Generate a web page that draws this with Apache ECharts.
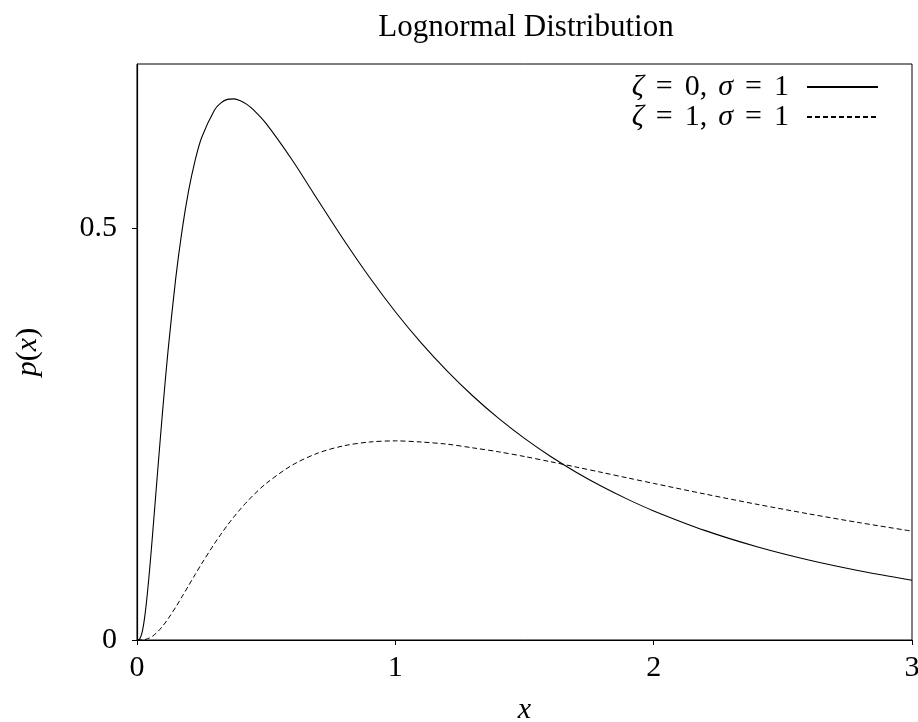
<!DOCTYPE html>
<html>
<head>
<meta charset="utf-8">
<script src="https://cdn.jsdelivr.net/npm/echarts@6/dist/echarts.min.js"></script>
<style>html,body{margin:0;padding:0;background:#fff}#chart{width:918px;height:722px}</style>
</head>
<body>
<div id="chart"></div>
<script>
// x positions where the curves were read
var xValues = [0, 0.01, 0.02, 0.03, 0.04, 0.05, 0.06, 0.08, 0.1, 0.12, 0.15, 0.175, 0.2, 0.225, 0.25, 0.3, 0.325, 0.35, 0.375, 0.4, 0.425, 0.45, 0.5, 0.6, 0.7, 0.8, 0.9, 1.0, 1.1, 1.2, 1.3, 1.4, 1.5, 1.6, 1.7, 1.8, 1.9, 2.0, 2.2, 2.4, 2.6, 2.8, 3.0];
// zeta = 0, sigma = 1
var pZeta0 = [0, 0.001, 0.0095, 0.0284, 0.0562, 0.0898, 0.1271, 0.2054, 0.2815, 0.3511, 0.4398, 0.4991, 0.5463, 0.5829, 0.6104, 0.6442, 0.6527, 0.6570, 0.6576, 0.6554, 0.6509, 0.6445, 0.6275, 0.5836, 0.5348, 0.4864, 0.4408, 0.3989, 0.3610, 0.3270, 0.2965, 0.2693, 0.2450, 0.2233, 0.2039, 0.1865, 0.1709, 0.1569, 0.1329, 0.1133, 0.0972, 0.0839, 0.0727];
// zeta = 1, sigma = 1
var pZeta1 = [0, 0, 0.0001, 0.0005, 0.0014, 0.0027, 0.0046, 0.0100, 0.0171, 0.0256, 0.0400, 0.0530, 0.0663, 0.0795, 0.0926, 0.1172, 0.1286, 0.1395, 0.1496, 0.1590, 0.1678, 0.1759, 0.1903, 0.2124, 0.2271, 0.2360, 0.2406, 0.2420, 0.2406, 0.2380, 0.2335, 0.2287, 0.2230, 0.2167, 0.2102, 0.2036, 0.1969, 0.1903, 0.1773, 0.1649, 0.1533, 0.1424, 0.1323];
var xTicks = [0, 1, 2, 3];
var yTicks = [0, 0.5];
var titleText = 'Lognormal Distribution';
var seriesNames = ['zeta0', 'zeta1'];
var legendLabels = {zeta0: '{i|ζ}{e|=}0,{c|}{i|σ}{e|=}1', zeta1: '{i|ζ}{e|=}1,{c|}{i|σ}{e|=}1'};

function pairs(xs, ys) { return xs.map(function (x, i) { return [x, ys[i]]; }); }

var FONT = 'Liberation Serif';
var FS = 30;
var chart = echarts.init(document.getElementById('chart'), null, {renderer: 'canvas'});
chart.setOption({
  backgroundColor: '#fff',
  animation: false,
  title: {
    text: titleText, left: 521, top: 7, textAlign: 'center',
    textStyle: {fontFamily: FONT, fontSize: 31, fontWeight: 'normal', color: '#000'}
  },
  grid: {left: 137, right: 6, top: 64, bottom: 82, show: true, borderColor: '#000', borderWidth: 1,
         containLabel: false, outerBoundsMode: 'none'},
  legend: {
    orient: 'vertical', right: 34, top: 67, align: 'right', itemGap: 0,
    itemWidth: 71, itemHeight: 14,
    data: seriesNames,
    itemStyle: {opacity: 0, borderWidth: 0},
    formatter: function (n) { return legendLabels[n]; },
    textStyle: {
      fontFamily: FONT, fontSize: FS, color: '#000', lineHeight: 28, padding: [0, 13, 0, 0],
      rich: {
        i: {fontFamily: FONT, fontSize: FS, fontStyle: 'italic', color: '#000'},
        e: {fontFamily: FONT, fontSize: FS, color: '#000', padding: [0, 12, 0, 12]},
        c: {width: 11}
      }
    }
  },
  xAxis: {
    type: 'value', min: 0, max: 3, interval: 1,
    name: '{i|x}', nameLocation: 'middle', nameGap: 55,
    nameTextStyle: {rich: {i: {fontFamily: FONT, fontSize: FS, fontStyle: 'italic', color: '#000'}}},
    axisLine: {show: true, onZero: false, lineStyle: {color: '#000', width: 1.2}},
    axisTick: {show: true, inside: false, length: 5, lineStyle: {color: '#000'}, customValues: xTicks},
    axisLabel: {fontFamily: FONT, fontSize: FS, color: '#000', margin: 13, customValues: xTicks},
    splitLine: {show: false}
  },
  yAxis: {
    type: 'value', min: 0, max: 0.7,
    name: '{i|p}({i|x})', nameLocation: 'middle', nameGap: 94, nameRotate: 90,
    nameTextStyle: {fontFamily: FONT, fontSize: FS, color: '#000',
      rich: {i: {fontFamily: FONT, fontSize: FS, fontStyle: 'italic', color: '#000'}}},
    axisLine: {show: true, onZero: false, lineStyle: {color: '#000', width: 1.2}},
    axisTick: {show: true, inside: false, length: 5, lineStyle: {color: '#000'}, customValues: yTicks},
    axisLabel: {fontFamily: FONT, fontSize: FS, color: '#000', margin: 20, customValues: yTicks},
    splitLine: {show: false}
  },
  series: [
    {
      name: 'zeta0', type: 'line', symbol: 'none', smooth: 0.3,
      data: pairs(xValues, pZeta0),
      lineStyle: {color: '#000', width: 1.1, type: 'solid'},
      itemStyle: {color: '#000'}
    },
    {
      name: 'zeta1', type: 'line', symbol: 'none', smooth: 0.3,
      data: pairs(xValues, pZeta1),
      lineStyle: {color: '#000', width: 1, type: [5, 3]},
      itemStyle: {color: '#000'}
    }
  ]
});
</script>
</body>
</html>
